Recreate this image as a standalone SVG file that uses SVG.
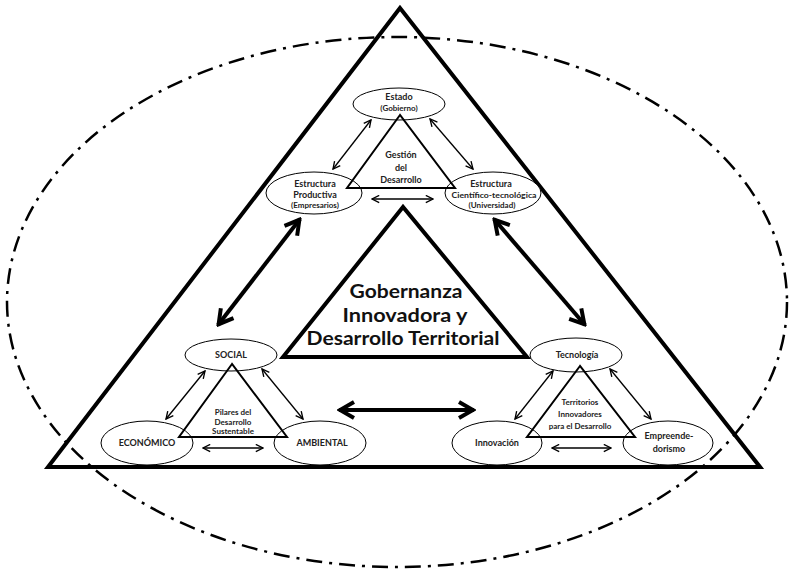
<svg xmlns="http://www.w3.org/2000/svg" width="794" height="581" viewBox="0 0 794 581">
<style>
.bg{fill:#fff}
.ell{fill:#fff;stroke:#000;stroke-width:1}
.lbl{font-family:Lato,"Open Sans","Liberation Sans",sans-serif;font-weight:700;font-size:9px;fill:#222;text-anchor:middle}
.sm{font-size:8px}
.title{font-family:Lato,"Open Sans","Liberation Sans",sans-serif;font-weight:700;font-size:19.5px;fill:#111;text-anchor:middle}
.tri{fill:none;stroke:#000;stroke-width:2}
.thin{stroke:#000;stroke-width:1.3;fill:none}
.thick{stroke:#000;stroke-width:4;fill:none}
</style>
<defs>
<marker id="ah" viewBox="0 0 10 10" markerUnits="userSpaceOnUse" markerWidth="9" markerHeight="9" refX="9" refY="5" orient="auto-start-reverse">
<path d="M1,1 L9,5 L1,9" fill="none" stroke="#000" stroke-width="1.5"/>
</marker>
<marker id="ahb" viewBox="0 0 10 10" markerUnits="userSpaceOnUse" markerWidth="20" markerHeight="20" refX="9" refY="5" orient="auto-start-reverse">
<path d="M1.5,1 L8.5,5 L1.5,9" fill="none" stroke="#000" stroke-width="2" stroke-linejoin="miter"/>
</marker>
</defs>
<rect class="bg" x="0" y="0" width="794" height="581"/>

<g id="outer-ellipse">
<ellipse cx="397" cy="302" rx="390" ry="265" fill="none" stroke="#000" stroke-width="2.5" stroke-dasharray="16 7 3 7"/>
</g>
<g id="outer-triangle">
<polygon points="400,8 48,467 760,467" fill="none" stroke="#000" stroke-width="4" stroke-linejoin="miter"/>
</g>

<g id="center-triangle">
<polygon points="403,207 283,357 527,357" fill="#fff" stroke="#000" stroke-width="4"/>
<text class="title" x="406" y="298" textLength="113" lengthAdjust="spacingAndGlyphs">Gobernanza</text>
<text class="title" x="405" y="321.5" textLength="125" lengthAdjust="spacingAndGlyphs">Innovadora y</text>
<text class="title" x="403" y="345" textLength="193" lengthAdjust="spacingAndGlyphs">Desarrollo Territorial</text>
</g>

<g id="connectors">
<line class="thin" x1="371" y1="120" x2="333" y2="169" marker-start="url(#ah)" marker-end="url(#ah)"/>
<line class="thin" x1="430" y1="119" x2="473" y2="169" marker-start="url(#ah)" marker-end="url(#ah)"/>
<line class="thin" x1="372" y1="199" x2="433" y2="199" marker-start="url(#ah)" marker-end="url(#ah)"/>
<line class="thick" x1="300" y1="219" x2="218" y2="325" marker-start="url(#ahb)" marker-end="url(#ahb)"/>
<line class="thick" x1="494" y1="219" x2="585" y2="325" marker-start="url(#ahb)" marker-end="url(#ahb)"/>
<line class="thick" x1="339" y1="410" x2="474" y2="410" marker-start="url(#ahb)" marker-end="url(#ahb)"/>
<line class="thin" x1="205" y1="371" x2="166" y2="419" marker-start="url(#ah)" marker-end="url(#ah)"/>
<line class="thin" x1="262" y1="369" x2="303" y2="419" marker-start="url(#ah)" marker-end="url(#ah)"/>
<line class="thin" x1="203" y1="448" x2="263" y2="448" marker-start="url(#ah)" marker-end="url(#ah)"/>
<line class="thin" x1="553" y1="371" x2="515" y2="419" marker-start="url(#ah)" marker-end="url(#ah)"/>
<line class="thin" x1="610" y1="369" x2="651" y2="419" marker-start="url(#ah)" marker-end="url(#ah)"/>
<line class="thin" x1="552" y1="448" x2="611" y2="448" marker-start="url(#ah)" marker-end="url(#ah)"/>
</g>

<g id="estado">
<ellipse class="ell" cx="399" cy="104" rx="46" ry="16"/>
<text class="lbl" x="399" y="100">Estado</text>
<text class="lbl sm" x="399" y="111">(Gobierno)</text>
</g>
<g id="estructura-productiva">
<ellipse class="ell" cx="314" cy="193" rx="48" ry="21"/>
<text class="lbl" x="315" y="187">Estructura</text>
<text class="lbl" x="315" y="198">Productiva</text>
<text class="lbl sm" x="315" y="208">(Empresarios)</text>
</g>
<g id="estructura-cientifica">
<ellipse class="ell" cx="493" cy="193" rx="48" ry="21"/>
<text class="lbl" x="491" y="187">Estructura</text>
<text class="lbl sm" x="494" y="198" textLength="85" lengthAdjust="spacingAndGlyphs">Científico-tecnológica</text>
<text class="lbl sm" x="492" y="208">(Universidad)</text>
</g>
<g id="gestion">
<polygon class="tri" points="400,115 347,188 455,188"/>
<text class="lbl" x="401" y="158">Gestión</text>
<text class="lbl" x="401" y="171">del</text>
<text class="lbl" x="401" y="183">Desarrollo</text>
</g>

<g id="social">
<ellipse class="ell" cx="231" cy="355" rx="46" ry="16"/>
<text class="lbl" x="231" y="358">SOCIAL</text>
</g>
<g id="economico">
<ellipse class="ell" cx="147" cy="443" rx="46" ry="22"/>
<text class="lbl" x="147" y="446">ECONÓMICO</text>
</g>
<g id="ambiental">
<ellipse class="ell" cx="320" cy="443" rx="46" ry="22"/>
<text class="lbl" x="322" y="446">AMBIENTAL</text>
</g>
<g id="pilares">
<polygon class="tri" points="232,364 179,437 287,437"/>
<text class="lbl sm" x="233" y="415">Pilares del</text>
<text class="lbl sm" x="233" y="425">Desarrollo</text>
<text class="lbl sm" x="233" y="434">Sustentable</text>
</g>

<g id="tecnologia">
<ellipse class="ell" cx="576" cy="355" rx="46" ry="17"/>
<text class="lbl" x="577" y="358">Tecnología</text>
</g>
<g id="innovacion">
<ellipse class="ell" cx="497" cy="443" rx="45" ry="22"/>
<text class="lbl" x="497" y="446">Innovación</text>
</g>
<g id="empreendedorismo">
<ellipse class="ell" cx="668" cy="443" rx="45" ry="22"/>
<text class="lbl" x="669" y="439">Empreende-</text>
<text class="lbl" x="669" y="452">dorismo</text>
</g>
<g id="territorios">
<polygon class="tri" points="580,366 527,437 635,437"/>
<text class="lbl sm" x="580" y="405">Territorios</text>
<text class="lbl sm" x="580" y="417">Innovadores</text>
<text class="lbl sm" x="580" y="429">para el Desarrollo</text>
</g>
</svg>
